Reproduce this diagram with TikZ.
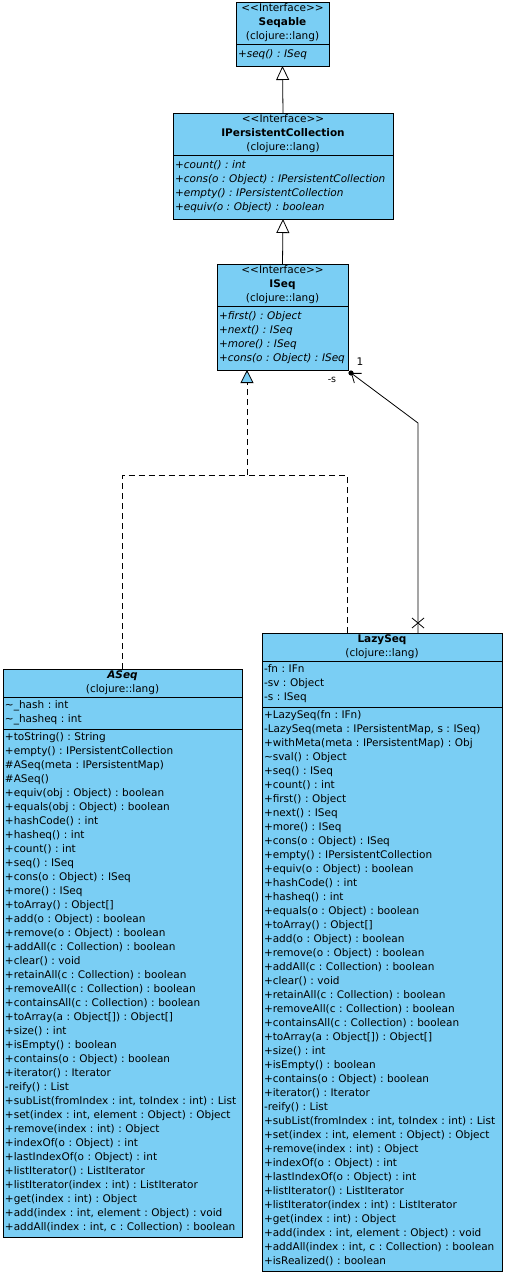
\documentclass[tikz,border=0pt]{standalone}
\usepackage{fontspec}
\setmainfont{DejaVu Sans}
\usetikzlibrary{positioning,arrows.meta}
\definecolor{umlblue}{RGB}{122,206,244}
\frenchspacing

\begin{document}
\begin{tikzpicture}[
  x=1pt, y=-1pt,
  every node/.style={font=\fontsize{10.5}{14}\selectfont},
  head/.style={
    draw,
    line width=0.9pt,
    fill=umlblue,
    anchor=north,
    outer sep=0pt,
    text width=#1,
    align=center,
    inner xsep=0pt,
    inner ysep=0pt,
    execute at begin node=\strut,
    execute at end node=\strut
  },
  part/.style={
    draw,
    line width=0.9pt,
    fill=umlblue,
    outer sep=0pt,
    text width=#1,
    align=left,
    inner xsep=2pt,
    inner ysep=2pt,
    execute at begin node=\strut,
    execute at end node=\strut
  },
  ipart/.style={
    part=#1,
    inner ysep=4pt,
    font=\fontsize{10.5}{14}\selectfont\itshape
  },
  gen/.style={line width=0.8pt, -{Triangle[length=14pt,width=13pt,fill=white]}},
  real/.style={line width=0.8pt, dash pattern=on 6pt off 4pt},
  assoc/.style={line width=0.8pt, -{Straight Barb[length=8pt,width=12pt]}}
]
\useasboundingbox (0,0) rectangle (506,1279);

% Interfaces
\node[head=93pt] (A) at (282.5,2) {<{}<Interface>{}>\\\textbf{Seqable}\\(clojure::lang)};
\node[ipart=89pt, below=0pt of A] (A2) {+seq() : ISeq};

\node[head=220pt] (B) at (283,113) {<{}<Interface>{}>\\\textbf{IPersistentCollection}\\(clojure::lang)};
\node[ipart=216pt, below=0pt of B] (B2) {+count() : int\\
+cons(o : Object) : IPersistentCollection\\
+empty() : IPersistentCollection\\
+equiv(o : Object) : boolean};

\node[head=131pt] (C) at (282.5,264) {<{}<Interface>{}>\\\textbf{ISeq}\\(clojure::lang)};
\node[ipart=127pt, below=0pt of C] (C2) {+first() : Object\\
+next() : ISeq\\
+more() : ISeq\\
+cons(o : Object) : ISeq};

% ASeq
\node[head=239pt] (D) at (122.5,669) {\textbf{\textit{ASeq}}\\(clojure::lang)};
\node[part=235pt, below=0pt of D] (D2) {\textasciitilde\_hash : int\\
\textasciitilde\_hasheq : int};
\node[part=235pt, below=0pt of D2] (D3) {+toString() : String\\
+empty() : IPersistentCollection\\
\#ASeq(meta : IPersistentMap)\\
\#ASeq()\\
+equiv(obj : Object) : boolean\\
+equals(obj : Object) : boolean\\
+hashCode() : int\\
+hasheq() : int\\
+count() : int\\
+seq() : ISeq\\
+cons(o : Object) : ISeq\\
+more() : ISeq\\
+toArray() : Object[]\\
+add(o : Object) : boolean\\
+remove(o : Object) : boolean\\
+addAll(c : Collection) : boolean\\
+clear() : void\\
+retainAll(c : Collection) : boolean\\
+removeAll(c : Collection) : boolean\\
+containsAll(c : Collection) : boolean\\
+toArray(a : Object[]) : Object[]\\
+size() : int\\
+isEmpty() : boolean\\
+contains(o : Object) : boolean\\
+iterator() : Iterator\\
-reify() : List\\
+subList(fromIndex : int, toIndex : int) : List\\
+set(index : int, element : Object) : Object\\
+remove(index : int) : Object\\
+indexOf(o : Object) : int\\
+lastIndexOf(o : Object) : int\\
+listIterator() : ListIterator\\
+listIterator(index : int) : ListIterator\\
+get(index : int) : Object\\
+add(index : int, element : Object) : void\\
+addAll(index : int, c : Collection) : boolean};

% LazySeq
\node[head=240pt] (E) at (382,633) {\textbf{LazySeq}\\(clojure::lang)};
\node[part=236pt, below=0pt of E] (E2) {-fn : IFn\\
-sv : Object\\
-s : ISeq};
\node[part=236pt, below=0pt of E2] (E3) {+LazySeq(fn : IFn)\\
-LazySeq(meta : IPersistentMap, s : ISeq)\\
+withMeta(meta : IPersistentMap) : Obj\\
\textasciitilde sval() : Object\\
+seq() : ISeq\\
+count() : int\\
+first() : Object\\
+next() : ISeq\\
+more() : ISeq\\
+cons(o : Object) : ISeq\\
+empty() : IPersistentCollection\\
+equiv(o : Object) : boolean\\
+hashCode() : int\\
+hasheq() : int\\
+equals(o : Object) : boolean\\
+toArray() : Object[]\\
+add(o : Object) : boolean\\
+remove(o : Object) : boolean\\
+addAll(c : Collection) : boolean\\
+clear() : void\\
+retainAll(c : Collection) : boolean\\
+removeAll(c : Collection) : boolean\\
+containsAll(c : Collection) : boolean\\
+toArray(a : Object[]) : Object[]\\
+size() : int\\
+isEmpty() : boolean\\
+contains(o : Object) : boolean\\
+iterator() : Iterator\\
-reify() : List\\
+subList(fromIndex : int, toIndex : int) : List\\
+set(index : int, element : Object) : Object\\
+remove(index : int) : Object\\
+indexOf(o : Object) : int\\
+lastIndexOf(o : Object) : int\\
+listIterator() : ListIterator\\
+listIterator(index : int) : ListIterator\\
+get(index : int) : Object\\
+add(index : int, element : Object) : void\\
+addAll(index : int, c : Collection) : boolean\\
+isRealized() : boolean};

% Generalizations
\draw[gen] (B.north) -- (A2.south);
\draw[gen] (C.north) -- (B2.south);

% Realization of ISeq
\coordinate (F) at (247,475);
\draw[real] (D.north) |- (F);
\draw[real] ([xshift=-35pt]E.north) |- (F);
\draw[real, -{Triangle[length=13pt,width=13pt,fill=umlblue]}] (F) -- (F |- C2.south);

% Association LazySeq -> ISeq
\coordinate (G) at (418,423);
\coordinate (H) at ([shift={(3pt,-3pt)}]C2.south east);
\coordinate (X) at ([xshift=36pt,yshift=10pt]E.north);
\draw[assoc] ([xshift=36pt]E.north) -- (G) -- (H);
\fill (H) circle (2.6pt);
\draw[line width=0.8pt] (X) ++(-6pt,-5pt) -- ++(12pt,10pt) (X) ++(-6pt,5pt) -- ++(12pt,-10pt);
\node[font=\fontsize{10.5}{12}\selectfont] (L1) at (360,362) {1};
\node[font=\fontsize{9.5}{12}\selectfont] (L2) at (332,380) {-s};

\end{tikzpicture}
\end{document}
